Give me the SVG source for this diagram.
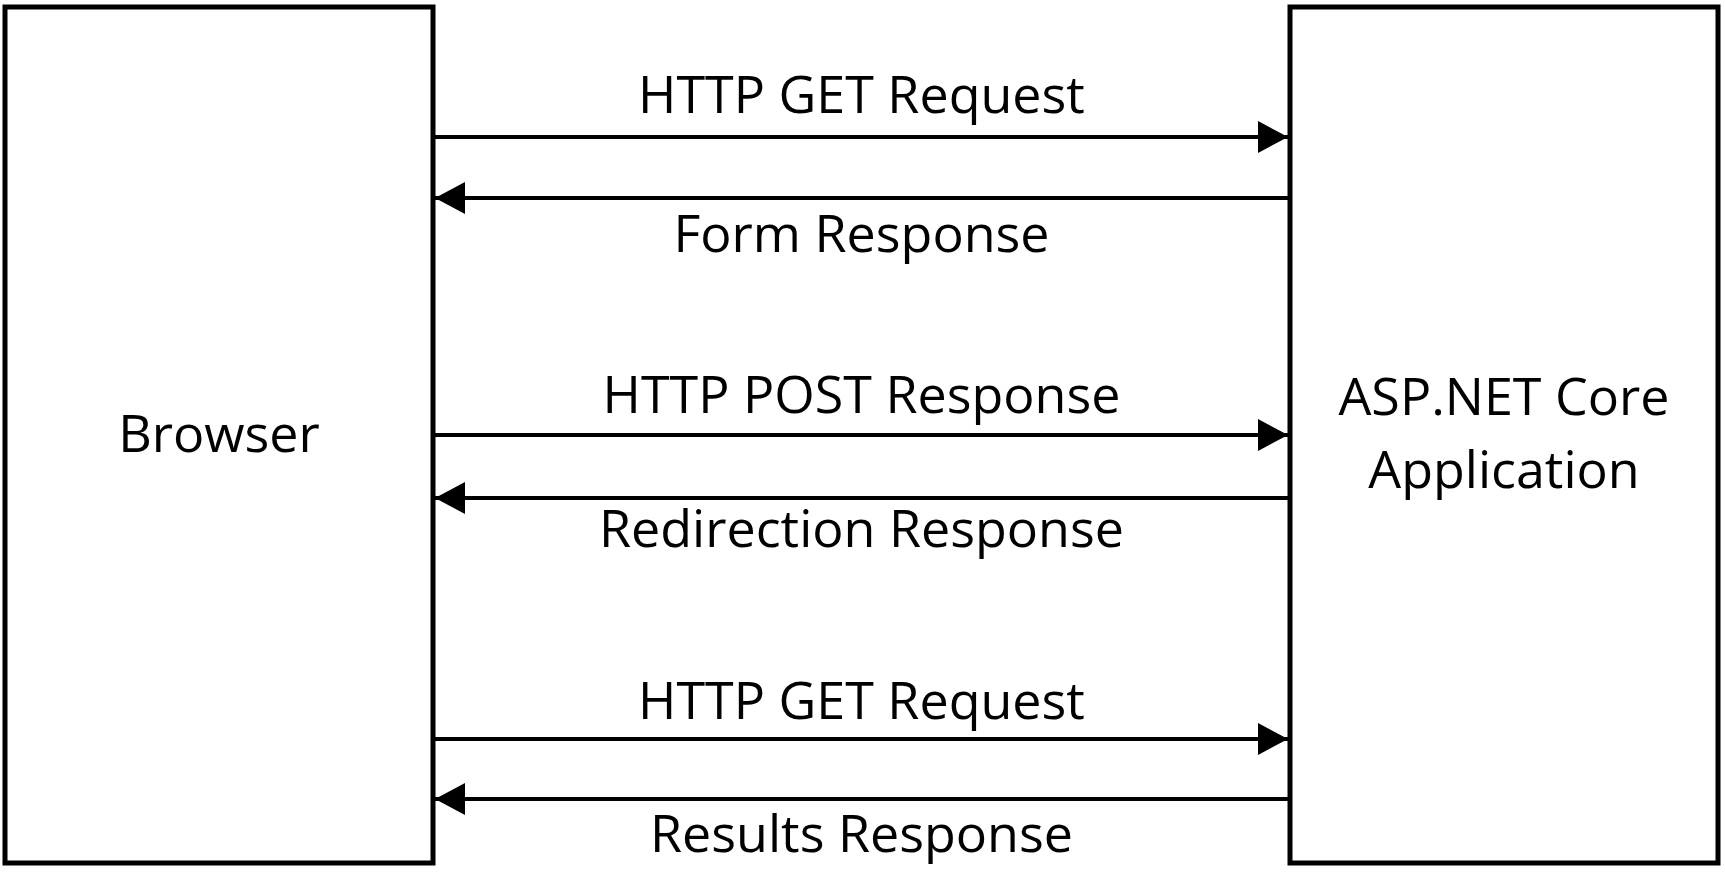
<svg xmlns="http://www.w3.org/2000/svg" width="1725" height="872" viewBox="0 0 1725 872">
<style>
.box{fill:#fff;stroke:#000;stroke-width:5}
.conn{stroke:#000;stroke-width:4;fill:none}
text{font-family:"Open Sans","Liberation Sans",sans-serif;font-size:52px;fill:#000;text-anchor:middle}
</style>
<defs>
<marker id="ah" viewBox="0 0 30 32" refX="30" refY="16" markerWidth="30" markerHeight="32" markerUnits="userSpaceOnUse" orient="auto">
<path d="M0,0 L30,16 L0,32 Z" fill="#000"/>
</marker>
</defs>
<rect width="1725" height="872" fill="#fff"/>
<g id="browser">
<rect class="box" x="5" y="7" width="428" height="856"/>
<text x="219" y="452">Browser</text>
</g>
<g id="app">
<rect class="box" x="1290" y="7" width="428" height="856"/>
<text x="1504" y="415">ASP.NET Core</text>
<text x="1504" y="488">Application</text>
</g>
<g id="connectors">
<line class="conn" x1="435" y1="137" x2="1288" y2="137" marker-end="url(#ah)"/>
<line class="conn" x1="1288" y1="198" x2="435" y2="198" marker-end="url(#ah)"/>
<line class="conn" x1="435" y1="435" x2="1288" y2="435" marker-end="url(#ah)"/>
<line class="conn" x1="1288" y1="498" x2="435" y2="498" marker-end="url(#ah)"/>
<line class="conn" x1="435" y1="739" x2="1288" y2="739" marker-end="url(#ah)"/>
<line class="conn" x1="1288" y1="799" x2="435" y2="799" marker-end="url(#ah)"/>
<text x="861.5" y="113">HTTP GET Request</text>
<text x="861.5" y="252">Form Response</text>
<text x="861.5" y="413">HTTP POST Response</text>
<text x="861.5" y="547">Redirection Response</text>
<text x="861.5" y="719">HTTP GET Request</text>
<text x="861.5" y="852">Results Response</text>
</g>
</svg>
